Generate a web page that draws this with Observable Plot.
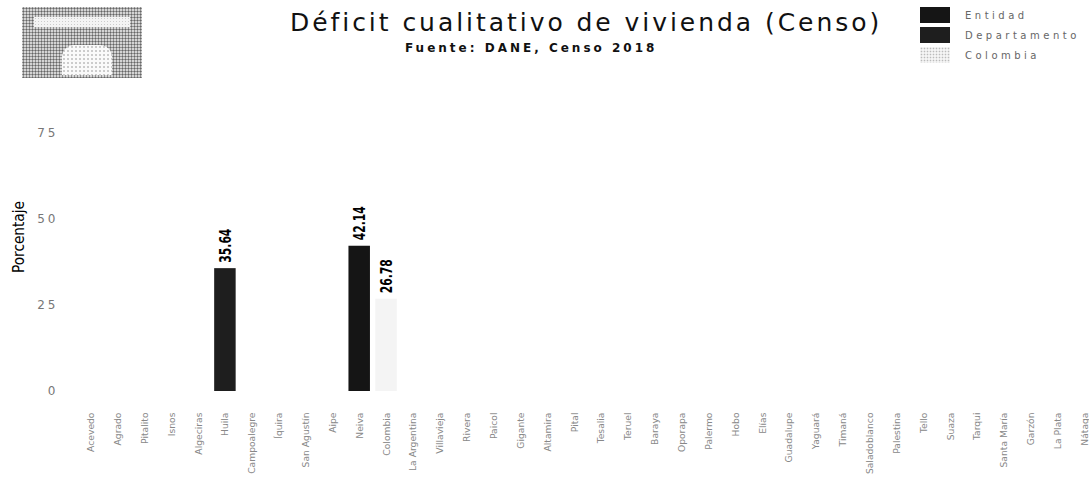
<!DOCTYPE html>
<html><head><meta charset="utf-8">
<script src="https://cdn.jsdelivr.net/npm/d3@7"></script>
<script src="https://cdn.jsdelivr.net/npm/@observablehq/plot@0.6"></script>
<style>
html,body{margin:0;padding:0;background:#fff;overflow:hidden;}
#wrap{position:relative;width:1089px;height:479px;}
#header{position:relative;height:78px;width:1089px;}
#logo{position:absolute;left:22px;top:7px;width:120px;height:75px;
  background: radial-gradient(circle, #666 0.8px, transparent 1.3px) 0 0/3px 3px, #d4d4d4;}
#logo .band{position:absolute;left:40px;top:38px;width:50px;height:30px;background:radial-gradient(circle,#bbb 0.6px,transparent 1px) 0 0/4px 4px,#fafafa;border-radius:12px 12px 0 0;}
#logo .bar{position:absolute;left:12px;top:10px;width:96px;height:10px;background:radial-gradient(circle,#ccc 0.6px,transparent 1px) 0 0/3px 3px,#f4f4f4;}
#title{position:absolute;left:290px;top:8px;white-space:nowrap;font-family:"DejaVu Sans",sans-serif;font-size:25px;letter-spacing:2.95px;color:#111;}
#subtitle{position:absolute;left:405px;top:41px;white-space:nowrap;font-family:"DejaVu Sans",sans-serif;font-weight:bold;font-size:12px;letter-spacing:3px;color:#111;}
#legend{position:absolute;left:920px;top:5px;font-family:"DejaVu Sans",sans-serif;font-size:10px;letter-spacing:3.5px;color:#666;}
#legend .item{display:flex;align-items:center;height:20px;}
#legend .sw{width:30px;height:16px;margin-right:15px;}
#chart{position:absolute;left:0;top:78px;}
</style>
</head><body>
<div id="wrap">
  <div id="header">
    <div id="logo"><div class="bar"></div><div class="band"></div></div>
    <div id="title"></div>
    <div id="subtitle"></div>
    <div id="legend"></div>
  </div>
  <div id="chart"></div>
</div>
<script>
const titulo = "Déficit cualitativo de vivienda (Censo)";
const subtitulo = "Fuente: DANE, Censo 2018";
const ejeY = "Porcentaje";

const municipios = ["Acevedo","Agrado","Pitalito","Isnos","Algeciras","Huila","Campoalegre","Íquira","San Agustín","Aipe","Neiva","Colombia","La Argentina","Villavieja","Rivera","Paicol","Gigante","Altamira","Pital","Tesalia","Teruel","Baraya","Oporapa","Palermo","Hobo","Elías","Guadalupe","Yaguará","Timaná","Saladoblanco","Palestina","Tello","Suaza","Tarqui","Santa María","Garzón","La Plata","Nátaga"];

const series = ["Entidad","Departamento","Colombia"];
const colores = ["#151515","#1e1e1e","#f4f4f4"];

const barCategorias = ["Huila","Neiva","Colombia"];
const barSeries = ["Departamento","Entidad","Colombia"];
const barValores = [35.64, 42.14, 26.78];

const yTicks = [0, 25, 50, 75];

document.getElementById("title").textContent = titulo;
document.getElementById("subtitle").textContent = subtitulo;
const leg = document.getElementById("legend");
series.forEach((s, i) => {
  const it = document.createElement("div"); it.className = "item";
  const sw = document.createElement("div"); sw.className = "sw"; sw.style.background = colores[i];
  if (i === 2) sw.style.background = "radial-gradient(circle,#bbb 0.7px,transparent 1.1px) 0 0/3px 3px," + colores[i];
  const tx = document.createElement("span"); tx.textContent = s;
  it.appendChild(sw); it.appendChild(tx); leg.appendChild(it);
});

const data = barCategorias.map((c, i) => ({cat: c, serie: barSeries[i], value: barValores[i]}));
const narrow = "'Liberation Sans Narrow', 'DejaVu Sans Condensed', sans-serif";

const chart = Plot.plot({
  width: 1089,
  height: 401,
  marginLeft: 75,
  marginRight: 0,
  marginTop: 20,
  marginBottom: 88,
  x: {domain: municipios, range: [74.5, 1100.5], padding: 0.2},
  y: {domain: [0, 85]},
  color: {domain: series, range: colores},
  style: {fontFamily: "DejaVu Sans", background: "white", overflow: "hidden"},
  marks: [
    Plot.axisY({ticks: yTicks, tickSize: 0, tickPadding: 17, label: null, fontSize: 12, fill: "#777",
      tickFormat: d => String(d)}),
    Plot.axisX({tickSize: 0, tickPadding: 21, tickRotate: -90, label: null, fontSize: 9.2, fill: "#888"}),
    Plot.barY(data, {x: "cat", y: "value", fill: "serie"}),
    Plot.text(data, {x: "cat", y: "value", text: d => d.value.toFixed(2), rotate: -90, textAnchor: "start",
      dy: -6, fontSize: 16, fontWeight: "bold", fill: "#000", fontFamily: narrow, className: "vlabel"}),
    Plot.text([ejeY], {frameAnchor: "left", rotate: -90, textAnchor: "middle", dx: -57, dy: -8, fontSize: 16,
      fill: "#000", fontFamily: narrow, className: "ylab"})
  ]
});
chart.querySelectorAll("[aria-label='y-axis tick label'] text").forEach(t => t.setAttribute("letter-spacing", "3px"));
chart.querySelectorAll(".vlabel text").forEach(t => { t.setAttribute("textLength", "34"); t.setAttribute("lengthAdjust", "spacingAndGlyphs"); });
chart.querySelectorAll(".ylab text").forEach(t => { t.setAttribute("textLength", "72"); t.setAttribute("lengthAdjust", "spacingAndGlyphs"); });
document.getElementById("chart").appendChild(chart);
</script>
</body></html>
